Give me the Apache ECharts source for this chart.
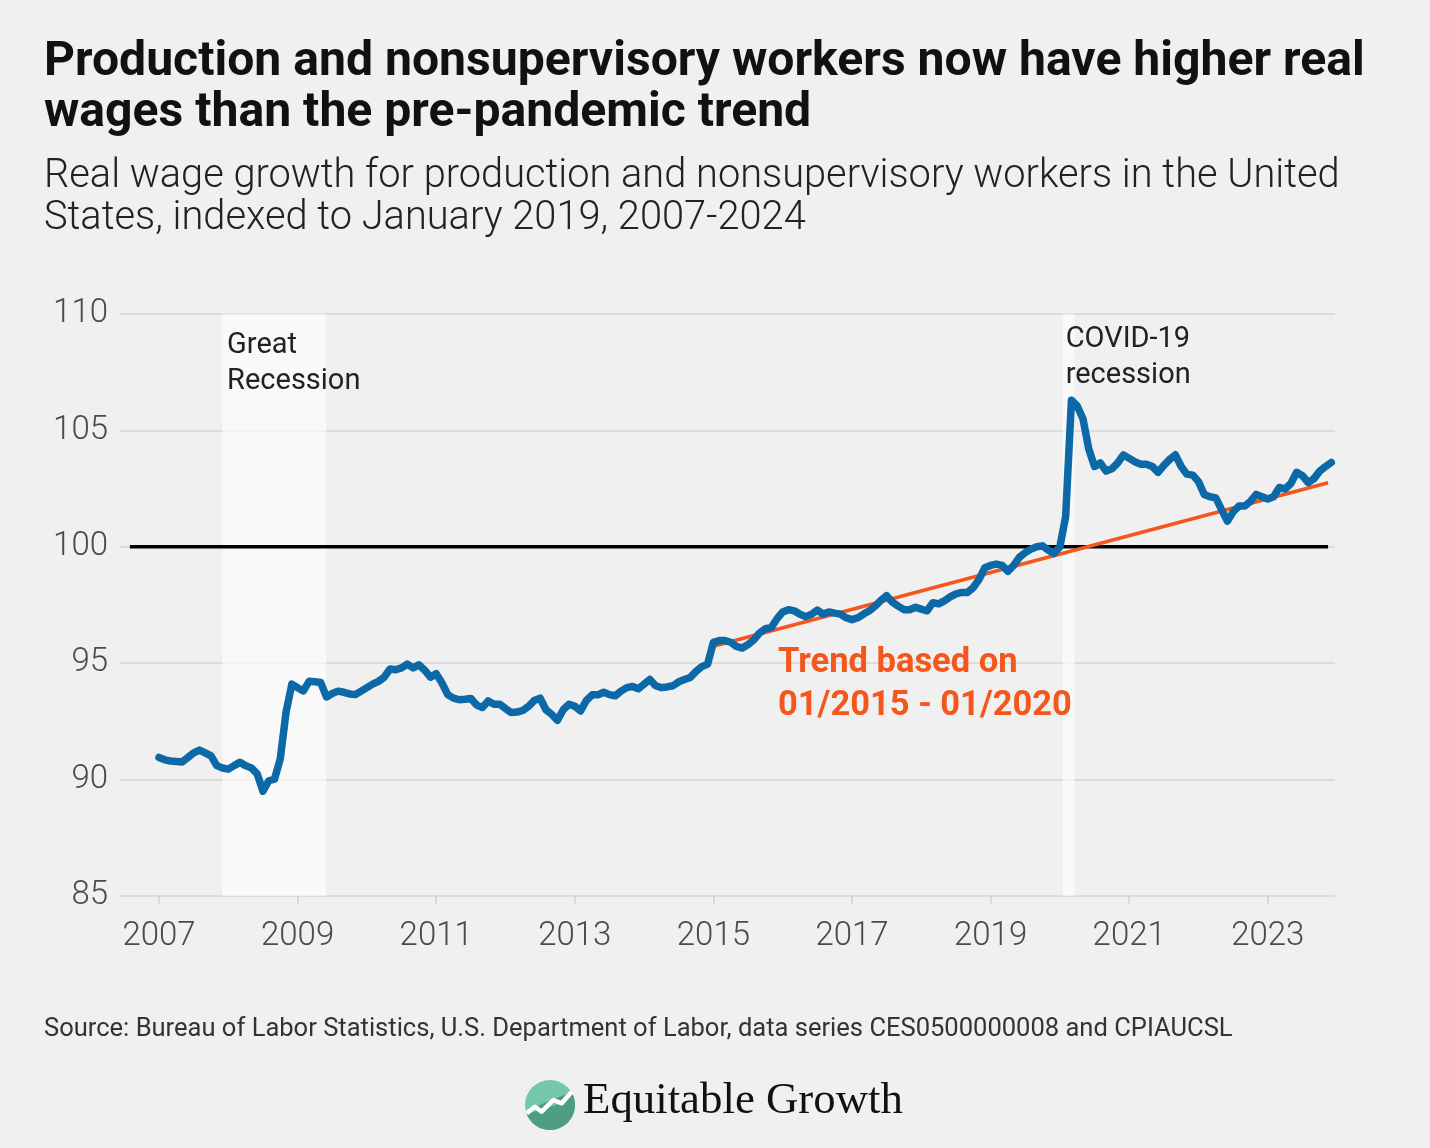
<!DOCTYPE html>
<html>
<head>
<meta charset="utf-8">
<script src="https://cdn.jsdelivr.net/npm/echarts@6/dist/echarts.min.js"></script>
<style>
html,body{margin:0;padding:0;background:#f0f0f0;}
#chart{width:1430px;height:1148px;}
</style>
</head>
<body>
<div id="chart"></div>
<script>
// ---------- DATA ----------
const firstYear = 2007; // monthly series starts January 2007
// Real wage index (Jan 2019 = 100), monthly Jan 2007 – Dec 2023
const realWageIndex = [
  // 2007
  90.95, 90.85, 90.80, 90.78, 90.76, 90.95, 91.15, 91.27, 91.15, 91.02, 90.60, 90.50,
  // 2008
  90.45, 90.60, 90.74, 90.60, 90.50, 90.25, 89.50, 89.95, 90.02, 90.90, 92.90, 94.10,
  // 2009
  93.95, 93.81, 94.22, 94.20, 94.17, 93.55, 93.70, 93.80, 93.75, 93.68, 93.65, 93.80,
  // 2010
  93.95, 94.10, 94.22, 94.40, 94.75, 94.72, 94.80, 94.96, 94.80, 94.93, 94.70, 94.40,
  // 2011
  94.55, 94.15, 93.65, 93.50, 93.43, 93.45, 93.48, 93.20, 93.10, 93.38, 93.24, 93.24,
  // 2012
  93.05, 92.88, 92.90, 92.97, 93.15, 93.40, 93.50, 93.00, 92.80, 92.55, 93.00, 93.24,
  // 2013
  93.15, 92.95, 93.40, 93.64, 93.64, 93.75, 93.65, 93.60, 93.80, 93.95, 94.00, 93.90,
  // 2014
  94.10, 94.30, 94.03, 93.95, 93.98, 94.03, 94.20, 94.30, 94.39, 94.65, 94.85, 94.96,
  // 2015
  95.90, 95.97, 95.97, 95.90, 95.72, 95.65, 95.80, 96.00, 96.30, 96.48, 96.53, 96.90,
  // 2016
  97.20, 97.30, 97.25, 97.10, 97.00, 97.10, 97.28, 97.11, 97.20, 97.15, 97.11, 96.95,
  // 2017
  96.87, 96.95, 97.11, 97.25, 97.45, 97.70, 97.90, 97.62, 97.45, 97.30, 97.30, 97.40,
  // 2018
  97.32, 97.25, 97.60, 97.55, 97.68, 97.85, 97.98, 98.04, 98.04, 98.25, 98.60, 99.10,
  // 2019
  99.20, 99.26, 99.20, 98.95, 99.20, 99.55, 99.75, 99.90, 100.00, 100.04, 99.85, 99.72,
  // 2020
  100.00, 101.30, 106.30, 106.05, 105.50, 104.20, 103.45, 103.60, 103.25, 103.35, 103.60, 103.95,
  // 2021
  103.80, 103.65, 103.55, 103.55, 103.45, 103.20, 103.50, 103.75, 103.95, 103.45, 103.12, 103.08,
  // 2022
  102.80, 102.25, 102.15, 102.10, 101.60, 101.10, 101.50, 101.75, 101.75, 101.95, 102.25, 102.15,
  // 2023
  102.05, 102.15, 102.55, 102.48, 102.72, 103.20, 103.05, 102.76, 102.93, 103.25, 103.45, 103.62
];
// Pre-pandemic trend line (fit on 01/2015 – 01/2020), endpoints
const trendYears = [2015.0, 2023.87];
const trendValues = [95.73, 102.75];
// Reference line at 100
const baselineYears = [2006.58, 2023.87];
const baselineValue = 100;
// Recession bands (decimal years)
const recessionNames = ['Great\nRecession', 'COVID-19\nrecession'];
const recessionStart = [2007.91, 2020.04];
const recessionEnd = [2009.41, 2020.21];
// Axis ticks
const xTickYears = [2007, 2009, 2011, 2013, 2015, 2017, 2019, 2021, 2023];
const yMin = 85, yMax = 110, yStep = 5;

// ---------- TEXT ----------
const titleLines = ['Production and nonsupervisory workers now have higher real', 'wages than the pre-pandemic trend'];
const subtitleLines = ['Real wage growth for production and nonsupervisory workers in the United', 'States, indexed to January 2019, 2007-2024'];
const trendLabelLines = ['Trend based on', '01/2015 - 01/2020'];
const sourceText = 'Source: Bureau of Labor Statistics, U.S. Department of Labor, data series CES0500000008 and CPIAUCSL';
const logoText = 'Equitable Growth';

// ---------- HELPERS ----------
const SANS = "Roboto, 'Noto Sans', sans-serif";
const SERIF = "'Liberation Serif', 'DejaVu Serif', serif";
const mctx = document.createElement('canvas').getContext('2d');
function fitSize(text, weight, family, width) {
  mctx.font = weight + ' 100px ' + family;
  return 100 * width / mctx.measureText(text).width;
}
const titleSize = fitSize(titleLines[0], 'bold', SANS, 1321);
const subSize = fitSize(subtitleLines[0], '300', SANS, 1296);
const trendSize = fitSize(trendLabelLines[1], 'bold', SANS, 294);
const srcSize = fitSize(sourceText, '400', SANS, 1189);
const logoSize = fitSize(logoText, '400', SERIF, 320);

// ---------- CHART ----------
const wageData = realWageIndex.map((v, i) => [firstYear + i / 12, v]);
const trendData = trendYears.map((y, i) => [y, trendValues[i]]);
const baselineData = baselineYears.map(y => [y, baselineValue]);

const chart = echarts.init(document.getElementById('chart'), null, {renderer: 'canvas'});

// logo (decorative)
const logoC = [550, 1105], logoR = 25;
const zig = [[526.7,1113.3],[535,1106.7],[541.7,1111.7],[553.3,1100],[561.7,1103.3],[571.7,1091.7]];
const arcPts = [];
for (let a = -31.5; a <= 160; a += 5) {
  const r = a * Math.PI / 180;
  arcPts.push([logoC[0] + logoR * Math.cos(r), logoC[1] + logoR * Math.sin(r)]);
}

const titleLH = 51, subLH = 42, trendLH = 43;

const option = {
  backgroundColor: '#f0f0f0',
  animation: false,
  grid: {left: 120, right: 95, top: 314, bottom: 252, containLabel: false},
  xAxis: {
    type: 'value',
    min: 2006.437, max: 2023.97,
    axisLine: {show: false},
    splitLine: {show: false},
    axisTick: {show: true, customValues: xTickYears, length: 8, lineStyle: {color: '#cfcfcf', width: 1.5}},
    axisLabel: {
      customValues: xTickYears,
      formatter: v => String(Math.round(v)),
      fontFamily: SANS, fontWeight: 300, fontSize: 33, color: '#4a4a4a', margin: 24
    }
  },
  yAxis: {
    type: 'value',
    min: yMin, max: yMax, interval: yStep,
    axisLine: {show: false},
    axisTick: {show: false},
    splitLine: {show: true, lineStyle: {color: '#dcdcdc', width: 2}},
    axisLabel: {fontFamily: SANS, fontWeight: 300, fontSize: 33, color: '#4a4a4a', margin: 12, padding: [5, 0, 0, 0]}
  },
  series: [
    {
      name: 'bands', type: 'line', data: [], z: 1,
      markArea: {
        silent: true,
        itemStyle: {color: 'rgba(255,255,255,0.6)'},
        data: recessionNames.map((n, i) => [
          {
            name: n, xAxis: recessionStart[i],
            label: {
              show: true, position: 'insideTopLeft', formatter: n,
              offset: [i === 0 ? -2 : -1, i === 0 ? 7 : 4],
              distance: i === 0 ? 7 : 4,
              fontFamily: SANS, fontWeight: 400, fontSize: 29, lineHeight: 36, color: '#222'
            }
          },
          {xAxis: recessionEnd[i]}
        ])
      }
    },
    {
      name: 'baseline', type: 'line', data: baselineData, z: 2,
      showSymbol: false, lineStyle: {color: '#000', width: 3.5}
    },
    {
      name: 'trend', type: 'line', data: trendData, z: 3,
      showSymbol: false, lineStyle: {color: '#f4561c', width: 3.5}
    },
    {
      name: 'wages', type: 'line', data: wageData, z: 4,
      showSymbol: false,
      lineStyle: {color: '#0a69a6', width: 7.5, cap: 'round', join: 'round'}
    }
  ],
  graphic: [
    {type: 'text', z: 100, x: 44, y: 80 - titleLH / 2 - 0.345 * titleSize, style: {
      text: titleLines.join('\n'),
      font: 'bold ' + titleSize.toFixed(2) + 'px ' + SANS, lineHeight: titleLH, fill: '#111'}},
    {type: 'text', z: 100, x: 44, y: 191 - subLH / 2 - 0.345 * subSize, style: {
      text: subtitleLines.join('\n'),
      font: '300 ' + subSize.toFixed(2) + 'px ' + SANS, lineHeight: subLH, fill: '#222'}},
    {type: 'text', z: 100, x: 778, y: 675 - trendLH / 2 - 0.345 * trendSize, style: {
      text: trendLabelLines.join('\n'),
      font: 'bold ' + trendSize.toFixed(2) + 'px ' + SANS, lineHeight: trendLH, fill: '#f4561c'}},
    {type: 'text', z: 100, x: 44, y: 1038 - 0.345 * srcSize, style: {
      text: sourceText, verticalAlign: 'middle',
      font: '400 ' + srcSize.toFixed(2) + 'px ' + SANS, fill: '#333'}},
    {type: 'circle', z: 100, shape: {cx: logoC[0], cy: logoC[1], r: logoR}, style: {fill: '#74c7a9'}},
    {type: 'polygon', z: 101, shape: {points: arcPts.concat(zig.slice(1, -1).reverse())}, style: {fill: '#4f9e81'}},
    {type: 'polyline', z: 102, shape: {points: zig}, style: {stroke: '#fff', lineWidth: 4.5, fill: null, lineJoin: 'round'}},
    {type: 'text', z: 100, x: 583, y: 1101, style: {
      text: logoText, font: logoSize.toFixed(2) + 'px ' + SERIF,
      fill: '#111', verticalAlign: 'middle', align: 'left'}}
  ]
};
chart.setOption(option);
</script>
</body>
</html>
